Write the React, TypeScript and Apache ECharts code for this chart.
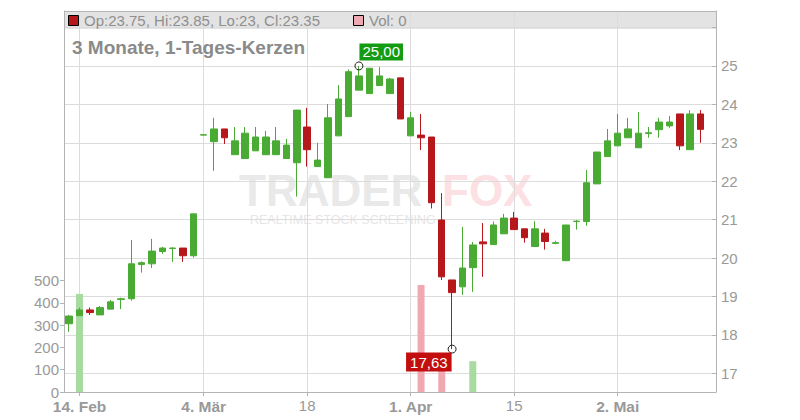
import React, { useEffect, useRef } from 'react';
import * as echarts from 'echarts';

const dates = [
  '13.02.', '14.02.', '15.02.', '18.02.', '19.02.', '20.02.', '21.02.', '22.02.', '25.02.', '26.02.', '27.02.', '28.02.',
  '01.03.', '04.03.', '05.03.', '06.03.', '07.03.', '08.03.', '11.03.', '12.03.', '13.03.', '14.03.', '15.03.',
  '18.03.', '19.03.', '20.03.', '21.03.', '22.03.', '25.03.', '26.03.', '27.03.', '28.03.', '29.03.',
  '01.04.', '02.04.', '03.04.', '04.04.', '05.04.', '08.04.', '09.04.', '10.04.', '11.04.', '12.04.',
  '15.04.', '16.04.', '17.04.', '18.04.', '23.04.', '24.04.', '25.04.', '26.04.', '29.04.', '30.04.',
  '02.05.', '03.05.', '06.05.', '07.05.', '08.05.', '09.05.', '10.05.', '13.05.', '14.05.', '15.05.'
];

const opens = [
  18.29, 18.50, 18.65, 18.52, 18.67, 18.92, 18.94, 19.83, 19.85, 20.17, 20.25, 20.26,
  20.06, 23.20, 23.03, 23.36, 22.69, 22.59, 22.79, 22.69, 22.69, 22.59, 22.48,
  23.41, 22.38, 22.09, 23.18, 23.68, 24.37, 24.28, 24.49, 24.28, 24.69,
  23.18, 23.20, 23.15, 20.99, 19.43, 19.25, 19.75, 20.42, 20.35, 20.63,
  21.04, 20.76, 20.30, 20.65, 20.38, 19.93, 20.95, 20.95, 21.93, 22.64,
  22.92, 23.13, 22.87, 23.24, 23.34, 23.44, 23.75, 22.82, 23.75
];
const closes = [
  18.49, 18.65, 18.58, 18.71, 18.86, 18.94, 19.85, 19.88, 20.18, 20.26, 20.26, 20.06,
  21.15, 23.21, 23.36, 23.13, 23.05, 23.25, 23.15, 23.15, 23.05, 22.94, 23.85,
  22.82, 22.55, 23.65, 24.14, 24.85, 24.74, 24.94, 24.74, 24.66, 23.62,
  23.65, 23.13, 21.44, 19.51, 19.10, 19.74, 20.34, 20.37, 20.86, 21.04,
  20.74, 20.53, 20.76, 20.43, 20.40, 20.86, 20.96, 21.96, 22.76, 23.05,
  23.25, 23.36, 23.25, 23.26, 23.54, 23.54, 22.92, 23.75, 23.35
];
const lows = [
  18.08, 18.50, 18.52, 18.52, 18.67, 18.67, 18.89, 19.62, 19.74, 20.11, 19.90, 19.90,
  20.01, 23.19, 22.27, 22.97, 22.69, 22.59, 22.79, 22.69, 22.69, 22.59, 21.60,
  22.38, 22.38, 22.09, 23.18, 23.68, 24.37, 24.28, 24.49, 24.28, 23.62,
  23.18, 22.81, 21.29, 19.43, 17.63, 19.04, 19.12, 19.51, 20.35, 20.63,
  20.74, 20.40, 20.30, 20.22, 20.36, 19.93, 20.74, 20.84, 21.93, 22.64,
  22.92, 23.13, 22.87, 23.13, 23.13, 23.39, 22.81, 22.82, 23.00
];
const highs = [
  18.52, 18.71, 18.71, 18.75, 18.91, 18.97, 20.47, 19.91, 20.50, 20.29, 20.28, 20.26,
  21.15, 23.21, 23.65, 23.36, 23.41, 23.41, 23.41, 23.31, 23.41, 23.10, 23.85,
  23.91, 23.00, 24.01, 24.50, 24.91, 25.00, 24.94, 24.97, 24.69, 24.69,
  23.80, 23.75, 23.15, 21.69, 19.43, 20.81, 20.42, 20.91, 20.95, 21.15,
  21.20, 20.76, 20.96, 20.76, 20.45, 20.86, 20.99, 22.29, 22.76, 23.36,
  23.75, 23.65, 23.80, 23.41, 23.65, 23.70, 23.75, 23.85, 23.85
];
const volumes = [
  0, 440, 0, 0, 0, 0, 0, 0, 0, 0, 0, 0,
  0, 0, 0, 0, 0, 0, 0, 0, 0, 0, 0,
  0, 0, 0, 0, 0, 0, 0, 0, 0, 0,
  0, 480, 0, 125, 0, 0, 138, 0, 0, 0,
  0, 0, 0, 0, 0, 0, 0, 0, 0, 0,
  0, 0, 0, 0, 0, 0, 0, 0, 0
];

const tickIndex = [1, 13, 23, 33, 43, 53];
const tickText = ['14. Feb', '4. Mär', '18', '1. Apr', '15', '2. Mai'];
const tickBold = [true, true, false, true, false, true];

const priceTicks = [17, 18, 19, 20, 21, 22, 23, 24, 25];
const volumeTicks = [0, 100, 200, 300, 400, 500];

const GREEN = '#4aab34';
const RED = '#b5171b';
const VOL_GREEN = '#a8dba0';
const VOL_RED = '#f0a9b2';
const FONT = '"Liberation Sans", Arial, sans-serif';

export default function App() {
  const ref = useRef<HTMLDivElement>(null);
  useEffect(() => {
    if (!ref.current) return;
    const chart = echarts.init(ref.current, undefined, { renderer: 'svg' });
    const n = opens.length;
    const candleData = dates.map((_, i) =>
      i < n ? [opens[i], closes[i], lows[i], highs[i]] : '-'
    );
    const volData = dates.map((_, i) =>
      i < n && volumes[i] > 0
        ? { value: volumes[i], itemStyle: { color: closes[i] >= opens[i] ? VOL_GREEN : VOL_RED } }
        : '-'
    );
    let maxI = 0, minI = 0;
    for (let i = 0; i < n; i++) {
      if (highs[i] > highs[maxI]) maxI = i;
      if (lows[i] < lows[minI]) minI = i;
    }
    const last = n - 1;
    const fmt = (v: number) => v.toFixed(2).replace('.', ',');
    const isTick = (idx: number) => tickIndex.includes(idx);
    const splitLine = {
      show: true,
      interval: (idx: number) => isTick(idx),
      alignWithLabel: true,
      lineStyle: { color: '#dcdcdc', width: 1 },
    };

    const option: any = {
      animation: false,
      textStyle: { fontFamily: FONT },
      grid: [
        { left: 64, right: 84, top: 11, height: 362.3 },
        { left: 64, right: 84, top: 280.5, bottom: 28 },
      ],
      xAxis: [
        {
          type: 'category', gridIndex: 0, data: dates, boundaryGap: true,
          axisLine: { show: false }, axisTick: { show: false }, axisLabel: { show: false },
          splitLine,
        },
        {
          type: 'category', gridIndex: 1, data: dates, boundaryGap: true,
          axisLine: { show: true, lineStyle: { color: '#b4b4b4' } },
          axisTick: { show: true, alignWithLabel: true, interval: (idx: number) => isTick(idx), length: 4, lineStyle: { color: '#b4b4b4' } },
          axisLabel: {
            interval: (idx: number) => isTick(idx),
            margin: 6,
            formatter: (_v: string, idx: number) => {
              const k = tickIndex.indexOf(idx);
              if (k < 0) return '';
              return tickBold[k] ? `{b|${tickText[k]}}` : `{n|${tickText[k]}}`;
            },
            rich: {
              b: { fontWeight: 'bold', fontSize: 15.5, color: '#999', fontFamily: FONT },
              n: { fontSize: 15, color: '#999', fontFamily: FONT },
            },
          },
          splitLine,
        },
      ],
      yAxis: [
        {
          type: 'value', gridIndex: 0, position: 'right', min: 17, max: 26.43, interval: 1,
          axisLine: { show: true, lineStyle: { color: '#b4b4b4' } },
          axisTick: { show: true, inside: true, length: 4, lineStyle: { color: '#b4b4b4' } },
          axisLabel: {
            color: '#999', fontSize: 15, margin: 5, fontFamily: FONT,
            formatter: (v: number) => (priceTicks.includes(v) ? String(v) : ''),
          },
          splitLine: { show: true, lineStyle: { color: '#dcdcdc' } },
        },
        {
          type: 'value', gridIndex: 0, position: 'left', min: 0, max: 1,
          axisLine: { show: true, lineStyle: { color: '#b4b4b4' } },
          axisTick: { show: false }, axisLabel: { show: false }, splitLine: { show: false },
        },
        {
          type: 'value', gridIndex: 1, position: 'left', min: volumeTicks[0], max: volumeTicks[volumeTicks.length - 1], interval: 100,
          axisLine: { show: true, lineStyle: { color: '#b4b4b4' } },
          axisTick: { show: true, length: 4, lineStyle: { color: '#b4b4b4' } },
          axisLabel: { color: '#999', fontSize: 15, margin: 5, fontFamily: FONT },
          splitLine: { show: false },
        },
        {
          type: 'value', gridIndex: 1, position: 'right', min: 0, max: 500,
          axisLine: { show: true, lineStyle: { color: '#b4b4b4' } },
          axisTick: { show: false }, axisLabel: { show: false }, splitLine: { show: false },
        },
      ],
      series: [
        {
          type: 'bar', xAxisIndex: 1, yAxisIndex: 2, data: volData, barWidth: 7, z: 1,
        },
        {
          type: 'candlestick', xAxisIndex: 0, yAxisIndex: 0, data: candleData, barWidth: 7, z: 3,
          itemStyle: { color: GREEN, color0: RED, borderColor: GREEN, borderColor0: RED, borderWidth: 1 },
          markPoint: {
            symbol: 'circle', symbolSize: 8,
            itemStyle: { color: 'rgba(255,255,255,0)', borderColor: '#222', borderWidth: 1 },
            data: [
              {
                coord: [dates[maxI], highs[maxI]],
                label: {
                  show: true, position: [5, -1], align: 'left', verticalAlign: 'bottom',
                  formatter: fmt(highs[maxI]), color: '#fff', backgroundColor: '#139b13',
                  padding: [1, 3, 1, 3], fontSize: 15, fontFamily: FONT,
                },
              },
              {
                coord: [dates[minI], lows[minI]],
                label: {
                  show: true, position: [4, 8], align: 'right', verticalAlign: 'top',
                  formatter: fmt(lows[minI]), color: '#fff', backgroundColor: '#c20e0e',
                  padding: [2, 4, 2, 4], fontSize: 15, fontFamily: FONT,
                },
              },
            ],
          },
        },
      ],
      graphic: [
        { type: 'rect', z: -2, shape: { x: 64, y: 11, width: 652, height: 18 }, style: { fill: '#e3e3e3' } },
        { type: 'line', z: 5, shape: { x1: 64, y1: 11.5, x2: 716, y2: 11.5 }, style: { stroke: '#b4b4b4', lineWidth: 1 } },
        { type: 'rect', z: 5, shape: { x: 68.5, y: 15.5, width: 10, height: 10 }, style: { fill: RED, stroke: '#000', lineWidth: 1 } },
        {
          type: 'text', z: 5, x: 84, y: 20.5,
          style: {
            text: `Op:${opens[last]}, Hi:${highs[last]}, Lo:${lows[last]}, Cl:${closes[last]}`,
            fill: '#8f8f8f', font: `15px ${FONT}`, verticalAlign: 'middle',
          },
        },
        { type: 'rect', z: 5, shape: { x: 353.5, y: 15.5, width: 10, height: 10 }, style: { fill: VOL_RED, stroke: '#000', lineWidth: 1 } },
        {
          type: 'text', z: 5, x: 369, y: 20.5,
          style: { text: `Vol: ${volumes[last]}`, fill: '#8f8f8f', font: `15px ${FONT}`, verticalAlign: 'middle' },
        },
        {
          type: 'text', z: 5, x: 72, y: 47,
          style: { text: '3 Monate, 1-Tages-Kerzen', fill: '#8a8a8a', font: `bold 19px ${FONT}`, verticalAlign: 'middle' },
        },
        {
          type: 'text', z: -1, x: 239, y: 190,
          style: { text: 'TRADER', fill: '#e9e9e9', font: `bold 44px ${FONT}`, verticalAlign: 'middle' },
        },
        {
          type: 'text', z: -1, x: 442, y: 190,
          style: { text: 'FOX', fill: '#fde0e3', font: `bold 44px ${FONT}`, verticalAlign: 'middle' },
        },
        {
          type: 'text', z: -1, x: 250, y: 220,
          style: { text: 'REALTIME STOCK SCREENING', fill: '#e6e6e6', font: `12.5px ${FONT}`, verticalAlign: 'middle' },
        },
      ],
    };
    chart.setOption(option);
    return () => chart.dispose();
  }, []);
  return (
    <div
      ref={ref}
      style={{ position: 'fixed', left: 0, top: 0, width: 800, height: 420, background: '#fff' }}
    />
  );
}
